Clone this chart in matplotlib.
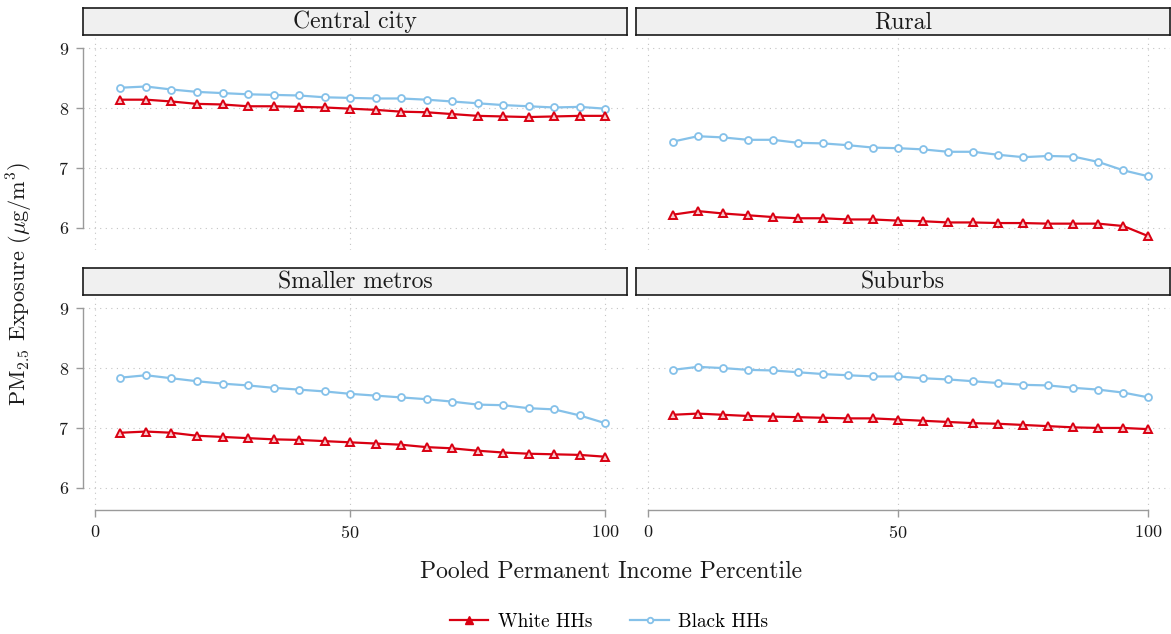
import matplotlib
matplotlib.use("Agg")
import matplotlib.pyplot as plt
from matplotlib.lines import Line2D

plt.rcParams["font.family"] = ["cmr10", "DejaVu Serif"]
plt.rcParams["mathtext.fontset"] = "cm"
plt.rcParams["axes.formatter.use_mathtext"] = True

# --------------------------------------------------------------------------- #
#  Data
# --------------------------------------------------------------------------- #
pctile = [5, 10, 15, 20, 25, 30, 35, 40, 45, 50,
          55, 60, 65, 70, 75, 80, 85, 90, 95, 100]

panels = ["Central city", "Rural", "Smaller metros", "Suburbs"]

central_white = [8.14, 8.14, 8.11, 8.07, 8.06, 8.03, 8.03, 8.02, 8.01, 7.99,
                 7.97, 7.94, 7.93, 7.90, 7.87, 7.86, 7.85, 7.86, 7.87, 7.87]
central_black = [8.34, 8.36, 8.31, 8.27, 8.25, 8.23, 8.22, 8.21, 8.18, 8.17,
                 8.16, 8.16, 8.14, 8.11, 8.08, 8.05, 8.03, 8.01, 8.02, 7.99]

rural_white = [6.22, 6.28, 6.24, 6.21, 6.18, 6.16, 6.16, 6.14, 6.14, 6.12,
               6.11, 6.09, 6.09, 6.08, 6.08, 6.07, 6.07, 6.07, 6.03, 5.86]
rural_black = [7.44, 7.53, 7.51, 7.47, 7.47, 7.42, 7.41, 7.38, 7.34, 7.33,
               7.31, 7.27, 7.27, 7.22, 7.18, 7.20, 7.19, 7.10, 6.96, 6.86]

metro_white = [6.92, 6.94, 6.92, 6.87, 6.85, 6.83, 6.81, 6.80, 6.78, 6.76,
               6.74, 6.72, 6.68, 6.66, 6.62, 6.59, 6.57, 6.56, 6.55, 6.52]
metro_black = [7.84, 7.88, 7.83, 7.78, 7.74, 7.71, 7.67, 7.64, 7.61, 7.57,
               7.54, 7.51, 7.48, 7.44, 7.39, 7.38, 7.33, 7.31, 7.21, 7.08]

suburb_white = [7.22, 7.24, 7.22, 7.20, 7.19, 7.18, 7.17, 7.16, 7.16, 7.14,
                7.12, 7.10, 7.08, 7.07, 7.05, 7.03, 7.01, 7.00, 7.00, 6.98]
suburb_black = [7.97, 8.02, 8.00, 7.97, 7.96, 7.93, 7.90, 7.88, 7.86, 7.86,
                7.83, 7.81, 7.78, 7.75, 7.72, 7.71, 7.67, 7.64, 7.59, 7.51]

white_series = [central_white, rural_white, metro_white, suburb_white]
black_series = [central_black, rural_black, metro_black, suburb_black]

y_ticks = [6, 7, 8, 9]
x_ticks = [0, 50, 100]

RED = "#D90012"
BLUE = "#85C1E9"
AXIS_GRAY = "#9A9A9A"
TEXT = "#1A1A1A"

# --------------------------------------------------------------------------- #
#  Layout (pixel-based, figure is 1171 x 634)
# --------------------------------------------------------------------------- #
W, H = 1171, 634
fig = plt.figure(figsize=(W / 100, H / 100), dpi=100)


def px_axes(x0, y0, x1, y1):
    return fig.add_axes([x0 / W, 1 - y1 / H, (x1 - x0) / W, (y1 - y0) / H])


cols = [(83, 627), (636, 1170)]
rows = [(38, 250), (298, 510)]
strips = [(8, 35), (268, 295)]

for i, name in enumerate(panels):
    r, c = divmod(i, 2)
    x0, x1 = cols[c]
    y0, y1 = rows[r]
    ax = px_axes(x0, y0, x1, y1)

    ax.plot(pctile, white_series[i], color=RED, lw=1.6, marker="^",
            ms=6, mfc="#F7C9CC", mec=RED, mew=1.4, zorder=4)
    ax.plot(pctile, black_series[i], color=BLUE, lw=1.6, marker="o",
            ms=5, mfc="white", mec=BLUE, mew=1.3, zorder=3)

    ax.set_xlim(-2.35, 104.3)
    ax.set_ylim(5.63, 9.17)
    ax.set_xticks(x_ticks)
    ax.set_yticks(y_ticks)
    ax.grid(True, linestyle=(0, (1, 4)), color="#C4C4C4", linewidth=0.8)
    ax.set_axisbelow(True)

    for s in ("top", "right"):
        ax.spines[s].set_visible(False)
    ax.spines["left"].set_bounds(6, 9)
    ax.spines["bottom"].set_bounds(0, 100)
    for s in ("left", "bottom"):
        ax.spines[s].set_color(AXIS_GRAY)
        ax.spines[s].set_linewidth(1.0)
    ax.tick_params(colors=AXIS_GRAY, labelcolor=TEXT, labelsize=13,
                   length=5, width=1.0, direction="out", pad=5)

    if c == 1:
        ax.spines["left"].set_visible(False)
        ax.tick_params(axis="y", left=False, labelleft=False)
    if r == 0:
        ax.spines["bottom"].set_visible(False)
        ax.tick_params(axis="x", bottom=False, labelbottom=False)

    # facet strip
    sy0, sy1 = strips[r]
    sax = px_axes(x0, sy0, x1, sy1)
    sax.set_facecolor("#F0F0F0")
    sax.set_xticks([])
    sax.set_yticks([])
    for s in sax.spines.values():
        s.set_color(TEXT)
        s.set_linewidth(1.2)
    sax.text(0.5, 0.48, name, transform=sax.transAxes, ha="center",
             va="center", fontsize=17, color=TEXT)

fig.text(20 / W, 1 - 284 / H, r"PM$_{2.5}$ Exposure ($\mu$g/m$^3$)",
         rotation=90, ha="center", va="center", fontsize=16, color=TEXT)
fig.text(611 / W, 1 - 572 / H, "Pooled Permanent Income Percentile",
         ha="center", va="center", fontsize=17, color=TEXT)

handles = [
    Line2D([], [], color=RED, lw=1.6, marker="^", ms=6, mfc=RED, mec=RED),
    Line2D([], [], color=BLUE, lw=1.6, marker="o", ms=4, mfc="white",
           mec=BLUE, mew=1.3),
]
fig.legend(handles, ["White HHs", "Black HHs"], loc="center",
           bbox_to_anchor=(609 / W, 1 - 622 / H), ncol=2, frameon=False,
           fontsize=13.8, handlelength=2.0, columnspacing=2.0,
           handletextpad=0.5)

fig.savefig("out.png", dpi=100)
